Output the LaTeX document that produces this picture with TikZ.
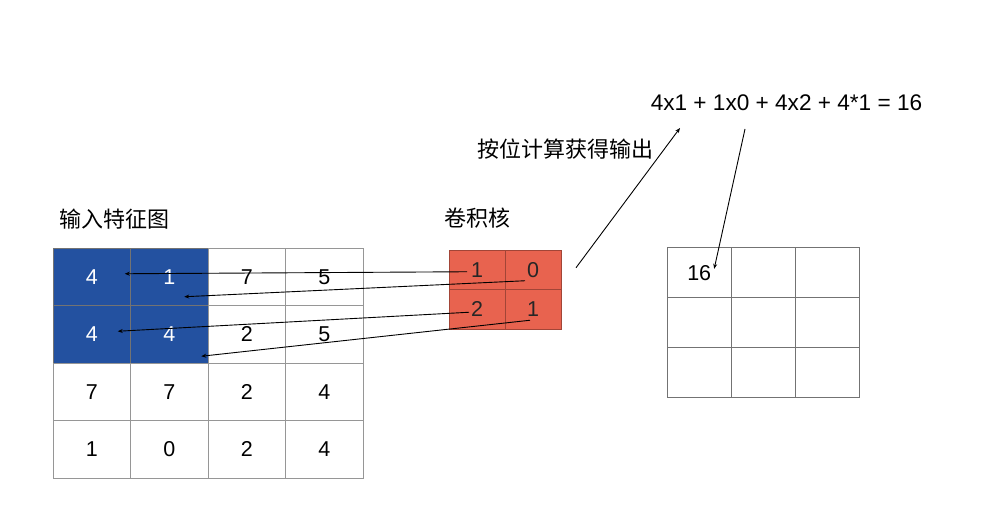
\documentclass[tikz,border=0pt]{standalone}
\usepackage{fontspec}
\setmainfont{Liberation Sans}
\newfontfamily\cjk{Noto Sans CJK SC}
\usetikzlibrary{arrows.meta,positioning,calc}
\definecolor{mapblue}{RGB}{35,81,160}
\definecolor{kernred}{RGB}{232,99,79}
\definecolor{gridgray}{RGB}{150,150,150}
\tikzset{
  cell/.style={draw=gridgray, line width=1pt, outer sep=0pt, inner sep=0pt, minimum width=77.5pt, minimum height=57.5pt, font=\fontsize{21.5}{24}\selectfont, text depth=0pt},
  hot/.style={cell, fill=mapblue, draw=black!55, text=white},
  kcell/.style={cell, fill=kernred, draw=kernred!70!black, minimum width=56pt, minimum height=39.5pt, text=black!85},
  ocell/.style={cell, draw=black!55, minimum width=64.3pt, minimum height=49.7pt},
  title/.style={font=\cjk\fontsize{22}{24}\selectfont, inner sep=0pt},
  arrow/.style={-{Stealth[length=5pt, width=4pt]}, line width=0.9pt}
}

\begin{document}
\begin{tikzpicture}[x=1pt, y=-1pt]
  \useasboundingbox (0,0) rectangle (982,505);

  % input feature map
  \node[hot] (in11) at (91.75,276.75) {4};
  \node[hot, right=0pt of in11] (in12) {1};
  \node[cell, right=0pt of in12] (in13) {7};
  \node[cell, right=0pt of in13] (in14) {5};
  \node[hot, below=0pt of in11] (in21) {4};
  \node[hot, right=0pt of in21] (in22) {4};
  \node[cell, right=0pt of in22] (in23) {2};
  \node[cell, right=0pt of in23] (in24) {5};
  \node[cell, below=0pt of in21] (in31) {7};
  \node[cell, right=0pt of in31] (in32) {7};
  \node[cell, right=0pt of in32] (in33) {2};
  \node[cell, right=0pt of in33] (in34) {4};
  \node[cell, below=0pt of in31] (in41) {1};
  \node[cell, right=0pt of in41] (in42) {0};
  \node[cell, right=0pt of in42] (in43) {2};
  \node[cell, right=0pt of in43] (in44) {4};

  % kernel
  \node[kcell] (k11) at (477,269.75) {1};
  \node[kcell, right=0pt of k11] (k12) {0};
  \node[kcell, below=0pt of k11] (k21) {2};
  \node[kcell, right=0pt of k21] (k22) {1};

  % output map
  \node[ocell] (o11) at (699.2,272.8) {16};
  \node[ocell, right=0pt of o11] (o12) {};
  \node[ocell, right=0pt of o12] (o13) {};
  \node[ocell, below=0pt of o11] (o21) {};
  \node[ocell, right=0pt of o21] (o22) {};
  \node[ocell, right=0pt of o22] (o23) {};
  \node[ocell, below=0pt of o21] (o31) {};
  \node[ocell, right=0pt of o31] (o32) {};
  \node[ocell, right=0pt of o32] (o33) {};

  % labels
  \node[title] (maplabel) at (114,219) {输入特征图};
  \node[title] (kernlabel) at (477,218) {卷积核};
  \node[title] (steplabel) at (565,149) {按位计算获得输出};
  \node[font=\fontsize{22.6}{24}\selectfont, inner sep=0pt, anchor=base] (formula) at (786.5,111) {4x1 + 1x0 + 4x2 + 4*1 = 16};

  % element-wise pairs
  \draw[arrow] ($(k11.center)+(-10,2)$) -- ($(in11.center)+(33,-3)$);
  \draw[arrow] ($(k12.center)+(-8,11)$) -- ($(in12.center)+(15,20)$);
  \draw[arrow] ($(k21.center)+(-8,3)$) -- ($(in21.center)+(26,-3)$);
  \draw[arrow] ($(k22.center)+(-3,11)$) -- ($(in22.center)+(32,22)$);

  % sum and result
  \draw[arrow] ($(k12.east)+(15,-2)$) -- ($(formula.base)+(-106.5,17)$);
  \draw[arrow] ($(formula.base)+(-41.5,18)$) -- ($(o11.center)+(15,-4)$);
\end{tikzpicture}
\end{document}
